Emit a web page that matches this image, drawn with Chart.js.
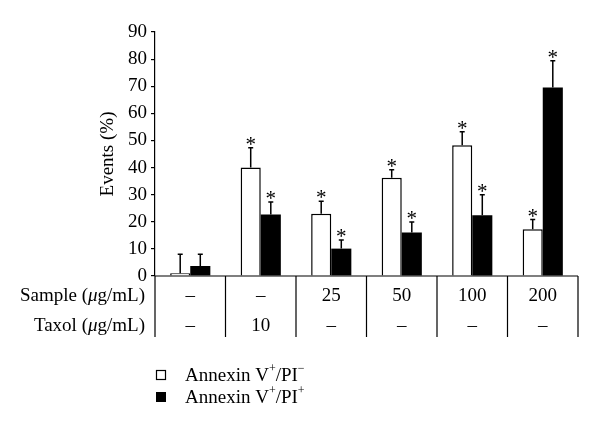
<!DOCTYPE html>
<html><head><meta charset="utf-8">
<script src="https://cdn.jsdelivr.net/npm/chart.js@4/dist/chart.umd.min.js"></script>
<style>html,body{margin:0;padding:0;background:#fff}#wrap{width:600px;height:433px}</style>
</head><body><div id="wrap"><canvas id="c" width="600" height="433"></canvas></div>
<script>
// ---- data ----
const categories = ['C1', 'C2', 'C3', 'C4', 'C5', 'C6'];
const sampleLabels = ['–', '–', '25', '50', '100', '200'];
const taxolLabels = ['–', '10', '–', '–', '–', '–'];
const piNegValues = [1, 40, 23, 36.2, 48.2, 17.2];
const piNegErrors = [7, 7.3, 4.6, 3, 5, 3.6];
const piPosValues = [3.7, 22.7, 10.1, 16, 22.4, 69.5];
const piPosErrors = [4.3, 4.6, 3.2, 3.9, 7.6, 9.9];
const piNegSig = [false, true, true, true, true, true];
const piPosSig = [false, true, true, true, true, true];
const yMin = 0, yMax = 90, yStep = 10;

const FONT = "'Liberation Serif', 'DejaVu Serif', serif";
const FS = 19;
Chart.defaults.font.family = FONT;
Chart.defaults.color = '#000';

function drawRich(ctx, parts, x, y, align) {
  let total = 0;
  const ws = parts.map(p => {
    ctx.font = (p.italic ? 'italic ' : '') + (p.sup ? 12 : FS) + 'px ' + FONT;
    const w = ctx.measureText(p.t).width;
    total += w;
    return w;
  });
  let cx = align === 'right' ? x - total : x;
  parts.forEach((p, i) => {
    ctx.font = (p.italic ? 'italic ' : '') + (p.sup ? 12 : FS) + 'px ' + FONT;
    ctx.fillText(p.t, cx, p.sup ? y - 7 : y);
    cx += ws[i];
  });
}

const extras = {
  id: 'extras',
  afterDatasetsDraw(chart) {
    const ctx = chart.ctx;
    const ys = chart.scales.y;
    const errs = [piNegErrors, piPosErrors];
    const vals = [piNegValues, piPosValues];
    const sigs = [piNegSig, piPosSig];
    ctx.save();
    ctx.strokeStyle = '#000';
    ctx.fillStyle = '#000';
    ctx.lineWidth = 1.5;
    for (let d = 0; d < 2; d++) {
      const meta = chart.getDatasetMeta(d);
      meta.data.forEach((el, i) => {
        const yTop = ys.getPixelForValue(vals[d][i] + errs[d][i]);
        ctx.beginPath();
        ctx.moveTo(el.x, el.y);
        ctx.lineTo(el.x, yTop);
        ctx.moveTo(el.x - 2.5, yTop);
        ctx.lineTo(el.x + 2.5, yTop);
        ctx.stroke();
        if (sigs[d][i]) {
          ctx.font = '21px ' + FONT;
          ctx.textAlign = 'center';
          ctx.textBaseline = 'alphabetic';
          ctx.fillText('*', el.x, yTop + 3);
        }
      });
    }
    ctx.restore();
  },
  afterDraw(chart) {
    const ctx = chart.ctx;
    const xs = chart.scales.x;
    const a = chart.chartArea;
    ctx.save();
    ctx.strokeStyle = '#000';
    ctx.fillStyle = '#000';
    ctx.lineWidth = 1.2;
    ctx.beginPath();
    ctx.moveTo(a.left, a.bottom);
    ctx.lineTo(a.right, a.bottom);
    const bounds = [a.left];
    for (let i = 0; i < categories.length - 1; i++) {
      bounds.push((xs.getPixelForValue(i) + xs.getPixelForValue(i + 1)) / 2);
    }
    bounds.push(a.right);
    bounds.forEach(bx => {
      ctx.moveTo(bx, a.bottom);
      ctx.lineTo(bx, a.bottom + 61);
    });
    ctx.stroke();
    ctx.textBaseline = 'middle';
    ctx.textAlign = 'center';
    ctx.font = FS + 'px ' + FONT;
    for (let i = 0; i < categories.length; i++) {
      const cx = xs.getPixelForValue(i);
      ctx.fillText(sampleLabels[i], cx, a.bottom + 20);
      ctx.fillText(taxolLabels[i], cx, a.bottom + 50);
    }
    ctx.textAlign = 'left';
    drawRich(ctx, [{t: 'Sample ('}, {t: 'μ', italic: true}, {t: 'g/mL)'}], a.left - 10, a.bottom + 20, 'right');
    drawRich(ctx, [{t: 'Taxol ('}, {t: 'μ', italic: true}, {t: 'g/mL)'}], a.left - 10, a.bottom + 50, 'right');
    const lx = 156, ly1 = 375, ly2 = 397;
    ctx.lineWidth = 1.2;
    ctx.strokeRect(lx + 0.5, ly1 - 4.5, 9, 9);
    ctx.fillRect(lx, ly2 - 5, 10, 10);
    ctx.textBaseline = 'middle';
    drawRich(ctx, [{t: 'Annexin V'}, {t: '+', sup: true}, {t: '/PI'}, {t: '−', sup: true}], 185, ly1 + 1, 'left');
    drawRich(ctx, [{t: 'Annexin V'}, {t: '+', sup: true}, {t: '/PI'}, {t: '+', sup: true}], 185, ly2 + 1, 'left');
    ctx.restore();
  }
};

new Chart(document.getElementById('c'), {
  type: 'bar',
  data: {
    labels: categories,
    datasets: [
      { label: 'Annexin V+/PI−', data: piNegValues, backgroundColor: '#fff', borderColor: '#000', borderWidth: 1.5, categoryPercentage: 0.57, barPercentage: 1.0 },
      { label: 'Annexin V+/PI+', data: piPosValues, backgroundColor: '#000', borderColor: '#000', borderWidth: 0, categoryPercentage: 0.57, barPercentage: 1.0 }
    ]
  },
  options: {
    responsive: false,
    animation: false,
    devicePixelRatio: 1,
    layout: { padding: { left: 92, right: 22, top: 32, bottom: 157 } },
    plugins: { legend: { display: false }, tooltip: { enabled: false } },
    scales: {
      x: { display: false },
      y: {
        min: yMin, max: yMax,
        afterFit(scale) { scale.width = 63; },
        ticks: { stepSize: yStep, font: { size: FS, family: FONT }, color: '#000', padding: 4 },
        grid: { drawOnChartArea: false, drawTicks: true, tickLength: 4, color: '#000', lineWidth: 1.2 },
        border: { display: true, color: '#000', width: 1.2 },
        title: { display: true, text: 'Events (%)', font: { size: FS, family: FONT }, color: '#000', padding: { top: 5, bottom: 2 } }
      }
    }
  },
  plugins: [extras]
});
</script></body></html>
